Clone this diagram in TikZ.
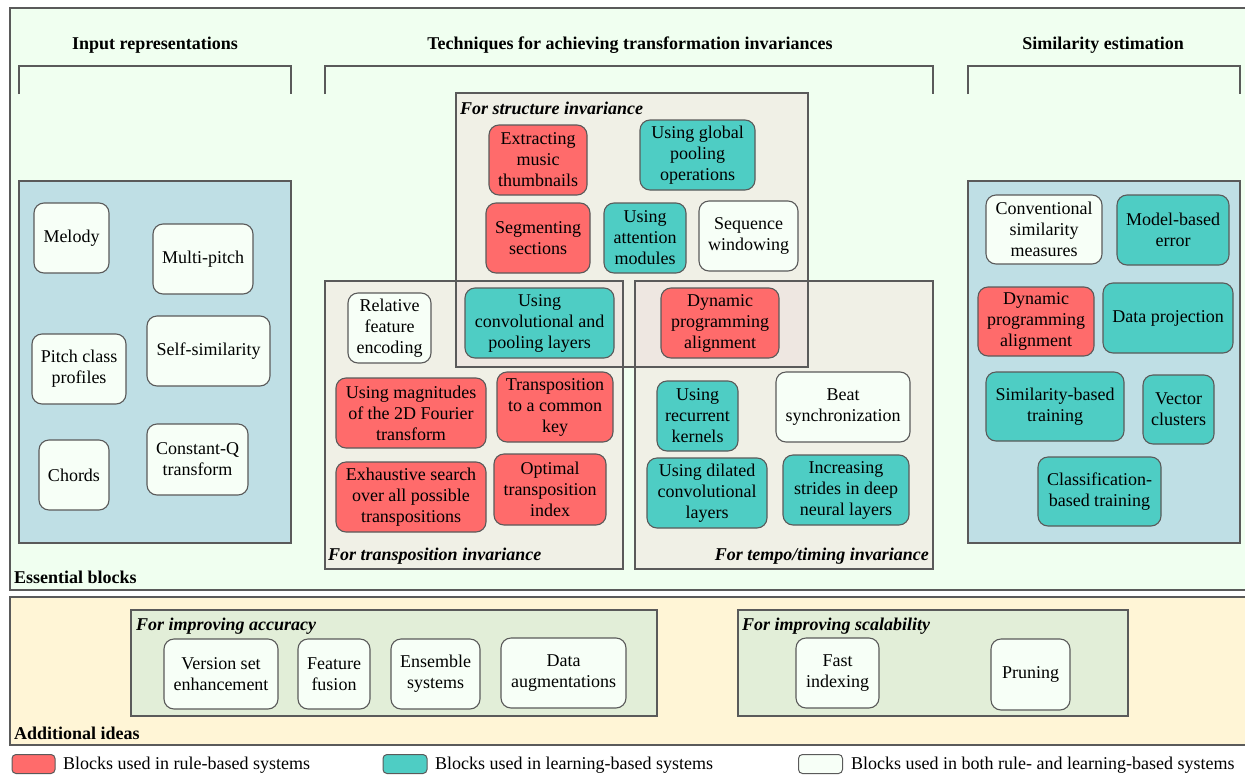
\documentclass[tikz,border=0pt]{standalone}
\usepackage{fontspec}
\setmainfont{Liberation Serif}
\definecolor{rulered}{HTML}{FF6B6B}
\definecolor{learnteal}{HTML}{4ECDC4}
\definecolor{bothwhite}{HTML}{F7FFF7}
\definecolor{panelblue}{HTML}{BFDFE5}
\definecolor{mintbg}{HTML}{F0FFF0}
\definecolor{beigebox}{HTML}{F0F0E6}
\definecolor{overlapbox}{HTML}{EEE7E1}
\definecolor{yellowbg}{HTML}{FFF5D6}
\definecolor{greenbox}{HTML}{E2EED8}
\definecolor{edgegray}{HTML}{5A5A5A}
\tikzset{
  blk/.style={draw=edgegray, line width=1.1pt, rounded corners=10pt, align=center, inner sep=0pt,
    font=\fontsize{18}{21}\selectfont},
  rb/.style={blk, fill=rulered},
  lb/.style={blk, fill=learnteal},
  bb/.style={blk, fill=bothwhite},
  panel/.style={draw=edgegray, line width=1.6pt},
  hdr/.style={font=\fontsize{18}{21}\selectfont\bfseries, inner sep=0pt},
  grouplbl/.style={font=\fontsize{18}{21}\selectfont\bfseries\itshape, inner sep=0pt},
  legtxt/.style={anchor=west, inner sep=0pt, font=\fontsize{18}{21}\selectfont},
  swatch/.style={draw=edgegray, line width=1pt, rounded corners=4pt, minimum width=44pt, minimum height=19pt, inner sep=0pt},
  sz/.style 2 args={minimum width=#1pt, minimum height=#2pt},
}
\begin{document}
\begin{tikzpicture}[x=1pt,y=-1pt]
\useasboundingbox (0,0) rectangle (1245,774);
% outer boxes
\draw[panel, fill=mintbg] (10,8) rectangle (1250,590);
\draw[panel, fill=yellowbg] (10,597) rectangle (1250,745);
\node[hdr, anchor=west] (essential) at (14,577) {Essential blocks};
\node[hdr, anchor=west] (additional) at (14,733) {Additional ideas};
% headers and brackets
\node[hdr] (hinput) at (155,45.5) {Input representations};
\node[hdr] (htech) at (630,45.5) {Techniques for achieving transformation invariances};
\node[hdr] (hsim) at (1103,45.5) {Similarity estimation};
\draw[edgegray, line width=1.3pt] (19,94) -- (19,66) -- (291,66) -- (291,94);
\draw[edgegray, line width=1.3pt] (325,94) -- (325,66) -- (933,66) -- (933,94);
\draw[edgegray, line width=1.3pt] (968,94) -- (968,66) -- (1240,66) -- (1240,94);
% side panels
\draw[panel, fill=panelblue] (19,181) rectangle (291,543);
\draw[panel, fill=panelblue] (968,181) rectangle (1240,543);
% technique boxes
\fill[beigebox] (456,93) rectangle (808,367);
\fill[beigebox] (325,281) rectangle (623,569);
\fill[beigebox] (635,281) rectangle (933,569);
\fill[overlapbox] (456,281) rectangle (623,367);
\fill[overlapbox] (635,281) rectangle (808,367);
\draw[panel] (456,93) rectangle (808,367);
\draw[panel] (325,281) rectangle (623,569);
\draw[panel] (635,281) rectangle (933,569);
\node[grouplbl, anchor=west] (lstruct) at (460,108.5) {For structure invariance};
\node[grouplbl, anchor=west] (ltrans) at (328,556.5) {For transposition invariance};
\node[grouplbl, anchor=east] (ltempo) at (929,556.5) {For tempo/timing invariance};
% additional boxes
\draw[panel, fill=greenbox] (131,610) rectangle (657,716);
\draw[panel, fill=greenbox] (738,610) rectangle (1128,716);
\node[grouplbl, anchor=west] (lacc) at (136,626) {For improving accuracy};
\node[grouplbl, anchor=west] (lscal) at (742,626) {For improving scalability};
% input representations
\node[bb, sz={75}{70}] (melody) at (71.5,238) {Melody};
\node[bb, sz={100}{70}] (multipitch) at (203,259) {Multi-pitch};
\node[bb, sz={94}{70}] (pcp) at (79,369) {Pitch class\\profiles};
\node[bb, sz={123}{70}] (selfsim) at (208.5,351) {Self-similarity};
\node[bb, sz={70}{70}] (chords) at (74,475) {Chords};
\node[bb, sz={101}{71}] (cqt) at (197.5,459.5) {Constant-Q\\transform};
% structure invariance
\node[rb, sz={98}{70}] (thumb) at (538,160) {Extracting\\music\\thumbnails};
\node[lb, sz={115}{70}] (gpool) at (697.5,155) {Using global\\pooling\\operations};
\node[rb, sz={104}{70}] (seg) at (538,238) {Segmenting\\sections};
\node[lb, sz={82}{70}] (att) at (645,238) {Using\\attention\\modules};
\node[bb, sz={99}{70}] (seqw) at (748.5,236) {Sequence\\windowing};
\node[lb, sz={149}{70}] (convpool) at (539.5,323) {Using\\convolutional and\\pooling layers};
\node[rb, sz={118}{70}] (dpa) at (720,323) {Dynamic\\programming\\alignment};
% transposition invariance
\node[bb, sz={83}{70}] (relfeat) at (389.5,328) {Relative\\feature\\encoding};
\node[rb, sz={150}{70}] (fourier) at (411,413) {Using magnitudes\\of the 2D Fourier\\transform};
\node[rb, sz={116}{70}] (commonkey) at (555,407) {Transposition\\to a common\\key};
\node[rb, sz={150}{70}] (exhaustive) at (411,497) {Exhaustive search\\over all possible\\transpositions};
\node[rb, sz={112}{71}] (oti) at (550,489.5) {Optimal\\transposition\\index};
% tempo invariance
\node[lb, sz={81}{70}] (recur) at (697.5,416) {Using\\recurrent\\kernels};
\node[bb, sz={134}{70}] (beat) at (843,407) {Beat\\synchronization};
\node[lb, sz={120}{70}] (dilated) at (707,493) {Using dilated\\convolutional\\layers};
\node[lb, sz={126}{70}] (strides) at (846,490) {Increasing\\strides in deep\\neural layers};
% similarity estimation
\node[bb, sz={116}{69}] (convsim) at (1044,229.5) {Conventional\\similarity\\measures};
\node[lb, sz={112}{70}] (modelerr) at (1173,230) {Model-based\\error};
\node[rb, sz={116}{69}] (dpa2) at (1036,321.5) {Dynamic\\programming\\alignment};
\node[lb, sz={130}{70}] (proj) at (1168,318) {Data projection};
\node[lb, sz={138}{69}] (simtrain) at (1055,406.5) {Similarity-based\\training};
\node[lb, sz={71}{69}] (vec) at (1178.5,409.5) {Vector\\clusters};
\node[lb, sz={123}{69}] (clstrain) at (1099.5,491.5) {Classification-\\based training};
% additional ideas
\node[bb, sz={114}{70}] (vse) at (221,674) {Version set\\enhancement};
\node[bb, sz={72}{70}] (fusion) at (334,674) {Feature\\fusion};
\node[bb, sz={89}{70}] (ensemble) at (435.5,674) {Ensemble\\systems};
\node[bb, sz={125}{70}] (augm) at (563.5,673) {Data\\augmentations};
\node[bb, sz={83}{70}] (fastidx) at (837.5,673) {Fast\\indexing};
\node[bb, sz={79}{71}] (pruning) at (1030.5,674.5) {Pruning};
% legend
\node[swatch, fill=rulered, minimum width=43pt] (swr) at (33.5,764) {};
\node[legtxt] (txr) at (63,765.5) {Blocks used in rule-based systems};
\node[swatch, fill=learnteal] (swl) at (405,764) {};
\node[legtxt] (txl) at (435,765.5) {Blocks used in learning-based systems};
\node[swatch, fill=bothwhite] (swb) at (820.5,764) {};
\node[legtxt] (txb) at (851,765.5) {Blocks used in both rule- and learning-based systems};
\end{tikzpicture}
\end{document}
